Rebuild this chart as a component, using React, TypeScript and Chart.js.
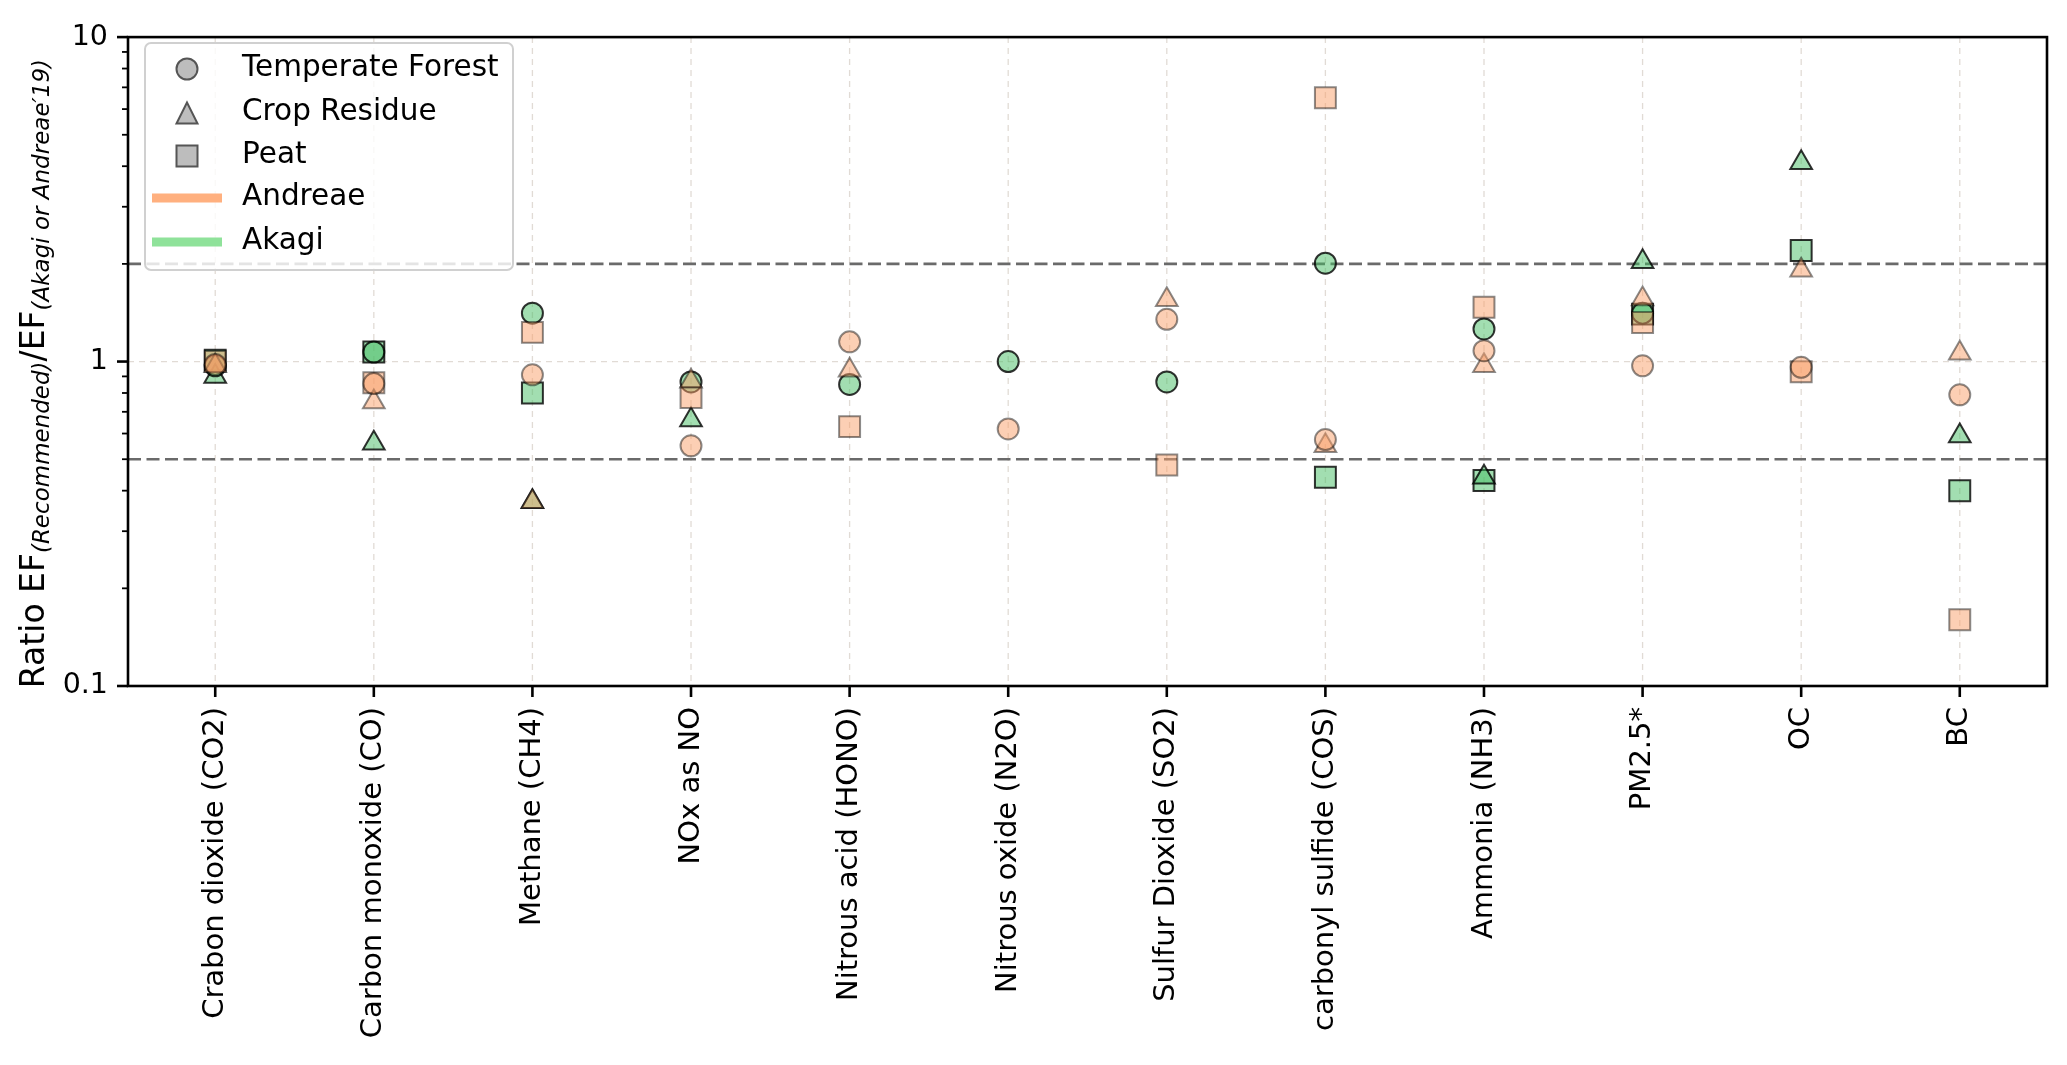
import React, { useEffect, useRef } from 'react';
import { Chart, registerables } from 'chart.js';

Chart.register(...registerables);

// ---------- data ----------
const categories = [
  'Crabon dioxide (CO2)',
  'Carbon monoxide (CO)',
  'Methane (CH4)',
  'NOx as NO',
  'Nitrous acid (HONO)',
  'Nitrous oxide (N2O)',
  'Sulfur Dioxide (SO2)',
  'carbonyl sulfide (COS)',
  'Ammonia (NH3)',
  'PM2.5*',
  'OC',
  'BC',
];

// Ratio relative to Andreae'19
const andreaeForest = [0.98, 0.855, 0.91, 0.55, 1.15, 0.62, 1.35, 0.575, 1.08, 0.97, 0.96, 0.79];
const andreaeCrop = [0.97, 0.75, 0.37, 0.87, 0.94, null, 1.55, 0.55, 0.97, 1.56, 1.91, 1.06];
const andreaePeat = [1.0, 0.86, 1.23, 0.775, 0.63, null, 0.48, 6.5, 1.47, 1.32, 0.93, 0.16];

// Ratio relative to Akagi
const akagiForest = [0.97, 1.07, 1.41, 0.865, 0.85, 1.0, 0.865, 2.01, 1.26, 1.41, null, null];
const akagiCrop = [0.9, 0.56, 0.37, 0.66, null, null, null, null, 0.44, 2.03, 4.1, 0.59];
const akagiPeat = [1.01, 1.07, 0.8, null, null, null, null, 0.44, 0.43, 1.4, 2.2, 0.4];

const refLines = [0.5, 2];
const yTickValues = [0.1, 0.2, 0.3, 0.4, 0.5, 0.6, 0.7, 0.8, 0.9, 1, 2, 3, 4, 5, 6, 7, 8, 9, 10];
const yMajorTicks = [0.1, 1, 10];
const yTickLabels = ['0.1', '1', '10'];

const legendMarkers = ['Temperate Forest', 'Crop Residue', 'Peat'];
const legendLines = ['Andreae', 'Akagi'];

// ---------- styles ----------
const FONT = "'DejaVu Sans', 'Liberation Sans', sans-serif";
const ANDREAE_FILL = 'rgba(250,160,105,0.5)';
const ANDREAE_EDGE = 'rgba(0,0,0,0.45)';
const AKAGI_FILL = 'rgba(70,190,100,0.5)';
const AKAGI_EDGE = 'rgba(0,0,0,0.8)';
const ANDREAE_LINE = '#FFB07F';
const AKAGI_LINE = '#8FE29A';

const toPoints = (vals: (number | null)[]) =>
  vals
    .map((v, i) => (v === null ? null : { x: i, y: v }))
    .filter((p) => p !== null) as { x: number; y: number }[];

// drawn in this order (later on top)
const seriesDefs = [
  { label: 'Akagi Peat', values: akagiPeat, style: 'rect', r: 14.8, fill: AKAGI_FILL, edge: AKAGI_EDGE },
  { label: 'Akagi Crop Residue', values: akagiCrop, style: 'triangle', r: 12.5, fill: AKAGI_FILL, edge: AKAGI_EDGE },
  { label: 'Akagi Temperate Forest', values: akagiForest, style: 'circle', r: 10.5, fill: AKAGI_FILL, edge: AKAGI_EDGE },
  { label: 'Andreae Peat', values: andreaePeat, style: 'rect', r: 14.8, fill: ANDREAE_FILL, edge: ANDREAE_EDGE },
  { label: 'Andreae Crop Residue', values: andreaeCrop, style: 'triangle', r: 12.5, fill: ANDREAE_FILL, edge: ANDREAE_EDGE },
  { label: 'Andreae Temperate Forest', values: andreaeForest, style: 'circle', r: 10.5, fill: ANDREAE_FILL, edge: ANDREAE_EDGE },
];

const decorPlugin = {
  id: 'decor',
  beforeDatasetsDraw(chart: any) {
    const { ctx, chartArea: ca, scales } = chart;
    const x = scales.x;
    const y = scales.y;
    ctx.save();
    ctx.beginPath();
    ctx.rect(ca.left, ca.top, ca.right - ca.left, ca.bottom - ca.top);
    ctx.clip();
    // grid
    ctx.strokeStyle = 'rgba(205,195,185,0.6)';
    ctx.lineWidth = 1.3;
    ctx.setLineDash([6, 5]);
    categories.forEach((_, i) => {
      const px = x.getPixelForValue(i);
      ctx.beginPath();
      ctx.moveTo(px, ca.top);
      ctx.lineTo(px, ca.bottom);
      ctx.stroke();
    });
    yMajorTicks.forEach((v) => {
      const py = y.getPixelForValue(v);
      ctx.beginPath();
      ctx.moveTo(ca.left, py);
      ctx.lineTo(ca.right, py);
      ctx.stroke();
    });
    // reference lines
    ctx.strokeStyle = '#6a6a6a';
    ctx.lineWidth = 2.6;
    ctx.setLineDash([13, 5.5]);
    refLines.forEach((v) => {
      const py = y.getPixelForValue(v);
      ctx.beginPath();
      ctx.moveTo(ca.left, py);
      ctx.lineTo(ca.right, py);
      ctx.stroke();
    });
    ctx.restore();
  },
  afterDatasetsDraw(chart: any) {
    const { ctx, chartArea: ca, scales } = chart;
    const x = scales.x;
    const y = scales.y;
    ctx.save();
    ctx.setLineDash([]);
    ctx.strokeStyle = '#000';
    // frame
    ctx.lineWidth = 2.6;
    ctx.strokeRect(ca.left, ca.top, ca.right - ca.left, ca.bottom - ca.top);
    // x ticks
    ctx.lineWidth = 2.6;
    categories.forEach((_, i) => {
      const px = x.getPixelForValue(i);
      ctx.beginPath();
      ctx.moveTo(px, ca.bottom);
      ctx.lineTo(px, ca.bottom + 11);
      ctx.stroke();
    });
    // y ticks
    yTickValues.forEach((v) => {
      const py = y.getPixelForValue(v);
      const major = yMajorTicks.includes(v);
      ctx.lineWidth = major ? 2.6 : 1.8;
      ctx.beginPath();
      ctx.moveTo(ca.left, py);
      ctx.lineTo(ca.left - (major ? 11 : 6), py);
      ctx.stroke();
    });
    ctx.restore();
  },
  afterDraw(chart: any) {
    const { ctx, chartArea: ca } = chart;
    ctx.save();
    // ---- y axis label with subscripts ----
    const segs = [
      { t: 'Ratio EF', f: `33px ${FONT}`, dy: 0 },
      { t: '(Recommended)', f: `italic 23px ${FONT}`, dy: 5 },
      { t: '/EF', f: `33px ${FONT}`, dy: 0 },
      { t: '(Akagi or Andreae\u203219)', f: `italic 23px ${FONT}`, dy: 5 },
    ];
    let total = 0;
    const widths = segs.map((s) => {
      ctx.font = s.f;
      const w = ctx.measureText(s.t).width;
      total += w;
      return w;
    });
    const cy = (ca.top + ca.bottom) / 2 + 12;
    ctx.translate(44, cy);
    ctx.rotate(-Math.PI / 2);
    ctx.fillStyle = '#000';
    ctx.textBaseline = 'alphabetic';
    ctx.textAlign = 'left';
    let cx = -total / 2;
    segs.forEach((s, i) => {
      ctx.font = s.f;
      ctx.fillText(s.t, cx, s.dy);
      cx += widths[i];
    });
    ctx.restore();

    // ---- legend ----
    ctx.save();
    const bx = 145, by = 43, bw = 368, bh = 227, rad = 6;
    ctx.beginPath();
    ctx.moveTo(bx + rad, by);
    ctx.lineTo(bx + bw - rad, by);
    ctx.arcTo(bx + bw, by, bx + bw, by + rad, rad);
    ctx.lineTo(bx + bw, by + bh - rad);
    ctx.arcTo(bx + bw, by + bh, bx + bw - rad, by + bh, rad);
    ctx.lineTo(bx + rad, by + bh);
    ctx.arcTo(bx, by + bh, bx, by + bh - rad, rad);
    ctx.lineTo(bx, by + rad);
    ctx.arcTo(bx, by, bx + rad, by, rad);
    ctx.closePath();
    ctx.fillStyle = 'rgba(255,255,255,0.82)';
    ctx.fill();
    ctx.strokeStyle = '#d0d0d0';
    ctx.lineWidth = 2;
    ctx.stroke();

    const rows = [69, 113, 156, 198, 242];
    const mx = 187;
    const textX = 242;
    ctx.fillStyle = '#bdbdbd';
    ctx.strokeStyle = '#555';
    ctx.lineWidth = 2;
    // circle
    ctx.beginPath();
    ctx.arc(mx, rows[0], 10.5, 0, Math.PI * 2);
    ctx.fill();
    ctx.stroke();
    // triangle
    ctx.beginPath();
    ctx.moveTo(mx, rows[1] - 10.5);
    ctx.lineTo(mx - 10.5, rows[1] + 10.5);
    ctx.lineTo(mx + 10.5, rows[1] + 10.5);
    ctx.closePath();
    ctx.fill();
    ctx.stroke();
    // square
    ctx.beginPath();
    ctx.rect(mx - 10.5, rows[2] - 10.5, 21, 21);
    ctx.fill();
    ctx.stroke();
    // lines
    ctx.lineWidth = 9;
    ctx.strokeStyle = ANDREAE_LINE;
    ctx.beginPath();
    ctx.moveTo(152, rows[3]);
    ctx.lineTo(222, rows[3]);
    ctx.stroke();
    ctx.strokeStyle = AKAGI_LINE;
    ctx.beginPath();
    ctx.moveTo(152, rows[4]);
    ctx.lineTo(222, rows[4]);
    ctx.stroke();

    ctx.fillStyle = '#000';
    ctx.font = `29.5px ${FONT}`;
    ctx.textAlign = 'left';
    ctx.textBaseline = 'middle';
    const labels = [...legendMarkers, ...legendLines];
    labels.forEach((t, i) => ctx.fillText(t, textX, rows[i] - 1));
    ctx.restore();
  },
};

export default function App() {
  const ref = useRef<HTMLCanvasElement>(null);

  useEffect(() => {
    if (!ref.current) return;
    Chart.defaults.font.family = FONT;
    const n = seriesDefs.length;
    const chart = new Chart(ref.current, {
      type: 'scatter',
      data: {
        datasets: seriesDefs.map((s, k) => ({
          label: s.label,
          data: toPoints(s.values),
          pointStyle: s.style as any,
          pointRadius: s.r,
          pointHoverRadius: s.r,
          backgroundColor: s.fill,
          borderColor: s.edge,
          pointBorderWidth: 2,
          borderWidth: 2,
          order: n - k,
        })),
      },
      options: {
        responsive: false,
        animation: false,
        events: [],
        layout: { padding: { left: 0, top: 26, right: 20, bottom: 0 } },
        plugins: {
          legend: { display: false },
          tooltip: { enabled: false },
          title: { display: false },
        },
        scales: {
          x: {
            type: 'linear',
            min: -0.55,
            max: categories.length - 1 + 0.55,
            afterBuildTicks: (s: any) => {
              s.ticks = categories.map((_, i) => ({ value: i }));
            },
            afterFit: (s: any) => {
              s.height = 379;
            },
            grid: { display: false, drawTicks: false },
            border: { display: false },
            ticks: {
              autoSkip: false,
              minRotation: 90,
              maxRotation: 90,
              padding: 21,
              color: '#000',
              font: { size: 29, family: FONT },
              callback: (v: any) => categories[Number(v)] ?? '',
            },
          },
          y: {
            type: 'logarithmic',
            min: 0.1,
            max: 10,
            afterBuildTicks: (s: any) => {
              s.ticks = yTickValues.map((v) => ({ value: v, major: yMajorTicks.includes(v) }));
            },
            afterFit: (s: any) => {
              s.width = 128;
            },
            grid: { display: false, drawTicks: false },
            border: { display: false },
            ticks: {
              autoSkip: false,
              padding: 20,
              color: '#000',
              font: { size: 28.5, family: FONT },
              callback: (v: any) => {
                const i = yMajorTicks.indexOf(Number(v));
                return i >= 0 ? yTickLabels[i] : '';
              },
            },
          },
        },
      },
      plugins: [decorPlugin],
    });
    return () => chart.destroy();
  }, []);

  return (
    <div
      style={{
        position: 'fixed',
        left: 0,
        top: 0,
        width: 2067,
        height: 1065,
        background: '#fff',
      }}
    >
      <canvas ref={ref} width={2067} height={1065} style={{ width: 2067, height: 1065, display: 'block' }} />
    </div>
  );
}
